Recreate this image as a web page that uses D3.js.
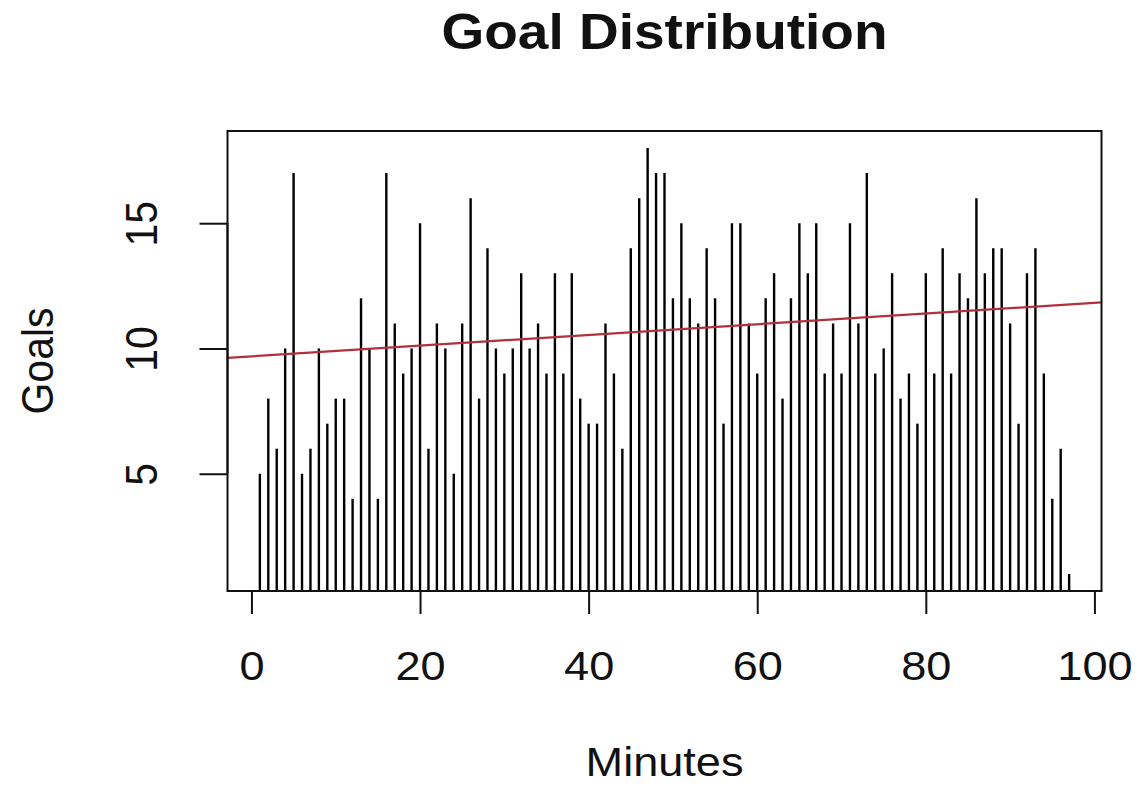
<!DOCTYPE html>
<html>
<head>
<meta charset="utf-8">
<script src="https://cdn.jsdelivr.net/npm/d3@7"></script>
<style>
  html, body { margin: 0; padding: 0; background: #fff; }
  svg { display: block; }
</style>
</head>
<body>
<script>
// Minute of the match (x) and number of goals scored in that minute (y)
const minutes = [
   1,  2,  3,  4,  5,  6,  7,  8,  9, 10,
  11, 12, 13, 14, 15, 16, 17, 18, 19, 20,
  21, 22, 23, 24, 25, 26, 27, 28, 29, 30,
  31, 32, 33, 34, 35, 36, 37, 38, 39, 40,
  41, 42, 43, 44, 45, 46, 47, 48, 49, 50,
  51, 52, 53, 54, 55, 56, 57, 58, 59, 60,
  61, 62, 63, 64, 65, 66, 67, 68, 69, 70,
  71, 72, 73, 74, 75, 76, 77, 78, 79, 80,
  81, 82, 83, 84, 85, 86, 87, 88, 89, 90,
  91, 92, 93, 94, 95, 96, 97
];
const goals = [
   5,  8,  6, 10, 17,  5,  6, 10,  7,  8,
   8,  4, 12, 10,  4, 17, 11,  9, 10, 15,
   6, 11, 10,  5, 11, 16,  8, 14, 10,  9,
  10, 13, 10, 11,  9, 13,  9, 13,  8,  7,
   7, 11,  9,  6, 14, 16, 18, 17, 17, 12,
  15, 12, 11, 14, 12,  7, 15, 15, 11,  9,
  12, 13,  8, 12, 15, 13, 15,  9, 11,  9,
  15, 11, 17,  9, 10, 13,  8,  9,  7, 13,
   9, 14,  9, 13, 12, 16, 13, 14, 14, 11,
   7, 13, 14,  9,  4,  6,  1
];
const xTicks = [0, 20, 40, 60, 80, 100];
const yTicks = [5, 10, 15];

const titleText = "Goal Distribution";
const xLabel = "Minutes";
const yLabel = "Goals";

const W = 1137, H = 785;
const box = { left: 227.5, right: 1101.5, top: 131, bottom: 591 };
const FONT = "'Liberation Sans', Arial, Helvetica, sans-serif";
const SX = 1.1; // horizontal stretch of the lettering

// Axis ranges padded by 4% on each side of the data range
function padded(ext) {
  const p = (ext[1] - ext[0]) * 0.04;
  return [ext[0] - p, ext[1] + p];
}
const x = d3.scaleLinear().domain(padded(d3.extent(minutes))).range([box.left, box.right]);
const y = d3.scaleLinear().domain(padded(d3.extent(goals))).range([box.bottom, box.top]);

const svg = d3.select("body").append("svg").attr("width", W).attr("height", H);

svg.append("defs").append("clipPath").attr("id", "plot-clip")
  .append("rect")
  .attr("x", box.left).attr("y", box.top)
  .attr("width", box.right - box.left).attr("height", box.bottom - box.top);

const plot = svg.append("g").attr("clip-path", "url(#plot-clip)");

// Histogram-like vertical lines from zero up to each count
const data = minutes.map((m, i) => ({ m, g: goals[i] }));
plot.selectAll("line.spike").data(data).join("line")
  .attr("class", "spike")
  .attr("x1", d => x(d.m)).attr("x2", d => x(d.m))
  .attr("y1", y(0)).attr("y2", d => y(d.g))
  .attr("stroke", "#000").attr("stroke-width", 2.4);

// Least-squares trend line of goals on minutes
const mx = d3.mean(minutes), my = d3.mean(goals);
const sxy = d3.sum(data, d => (d.m - mx) * (d.g - my));
const sxx = d3.sum(minutes, m => (m - mx) * (m - mx));
const slope = sxy / sxx, intercept = my - slope * mx;
const [x0, x1] = x.domain();
plot.append("line")
  .attr("x1", x(x0)).attr("y1", y(intercept + slope * x0))
  .attr("x2", x(x1)).attr("y2", y(intercept + slope * x1))
  .attr("stroke", "#b0303c").attr("stroke-width", 2.2);

// Frame around the plotting region
svg.append("rect")
  .attr("x", box.left).attr("y", box.top)
  .attr("width", box.right - box.left).attr("height", box.bottom - box.top)
  .attr("fill", "none").attr("stroke", "#111").attr("stroke-width", 2);

// X axis
const xAxis = d3.axisBottom(x).tickValues(xTicks).tickSize(23).tickPadding(0).tickFormat(d3.format("d"));
const gx = svg.append("g").attr("transform", `translate(0,${box.bottom})`).call(xAxis);
gx.select(".domain").attr("d", `M${x(xTicks[0])},0H${x(xTicks[xTicks.length - 1])}`)
  .attr("stroke", "#111").attr("stroke-width", 2);
gx.selectAll(".tick line").attr("stroke", "#111").attr("stroke-width", 2);
gx.selectAll(".tick text")
  .attr("y", null).attr("dy", null)
  .attr("transform", `translate(0,89) scale(${SX},1)`)
  .attr("font-family", FONT).attr("font-size", 41).attr("fill", "#111");

// Y axis, labels parallel to the axis
const yAxis = d3.axisLeft(y).tickValues(yTicks).tickSize(28).tickFormat(d3.format("d"));
const gy = svg.append("g").attr("transform", `translate(${box.left},0)`).call(yAxis);
gy.select(".domain").attr("d", `M0,${y(yTicks[0])}V${y(yTicks[yTicks.length - 1])}`)
  .attr("stroke", "#111").attr("stroke-width", 2);
gy.selectAll(".tick line").attr("stroke", "#111").attr("stroke-width", 2);
gy.selectAll(".tick text")
  .attr("x", null).attr("dy", null)
  .attr("text-anchor", "middle")
  .attr("transform", `translate(${157 - box.left},0) scale(${SX},1) rotate(-90)`)
  .attr("font-family", FONT).attr("font-size", 41).attr("fill", "#111");

gx.attr("font-family", null); gy.attr("font-family", null);

// Title and axis titles
svg.append("text")
  .attr("transform", `translate(${(box.left + box.right) / 2},49) scale(${SX},1)`)
  .attr("text-anchor", "middle")
  .attr("font-family", FONT).attr("font-weight", "bold").attr("font-size", 50)
  .attr("fill", "#111").text(titleText);

svg.append("text")
  .attr("transform", `translate(${(box.left + box.right) / 2},776) scale(${SX},1)`)
  .attr("text-anchor", "middle")
  .attr("font-family", FONT).attr("font-size", 41)
  .attr("fill", "#111").text(xLabel);

svg.append("text")
  .attr("transform", `translate(53,${(box.top + box.bottom) / 2}) scale(${SX},1) rotate(-90)`)
  .attr("text-anchor", "middle")
  .attr("font-family", FONT).attr("font-size", 41)
  .attr("fill", "#111").text(yLabel);
</script>
</body>
</html>
